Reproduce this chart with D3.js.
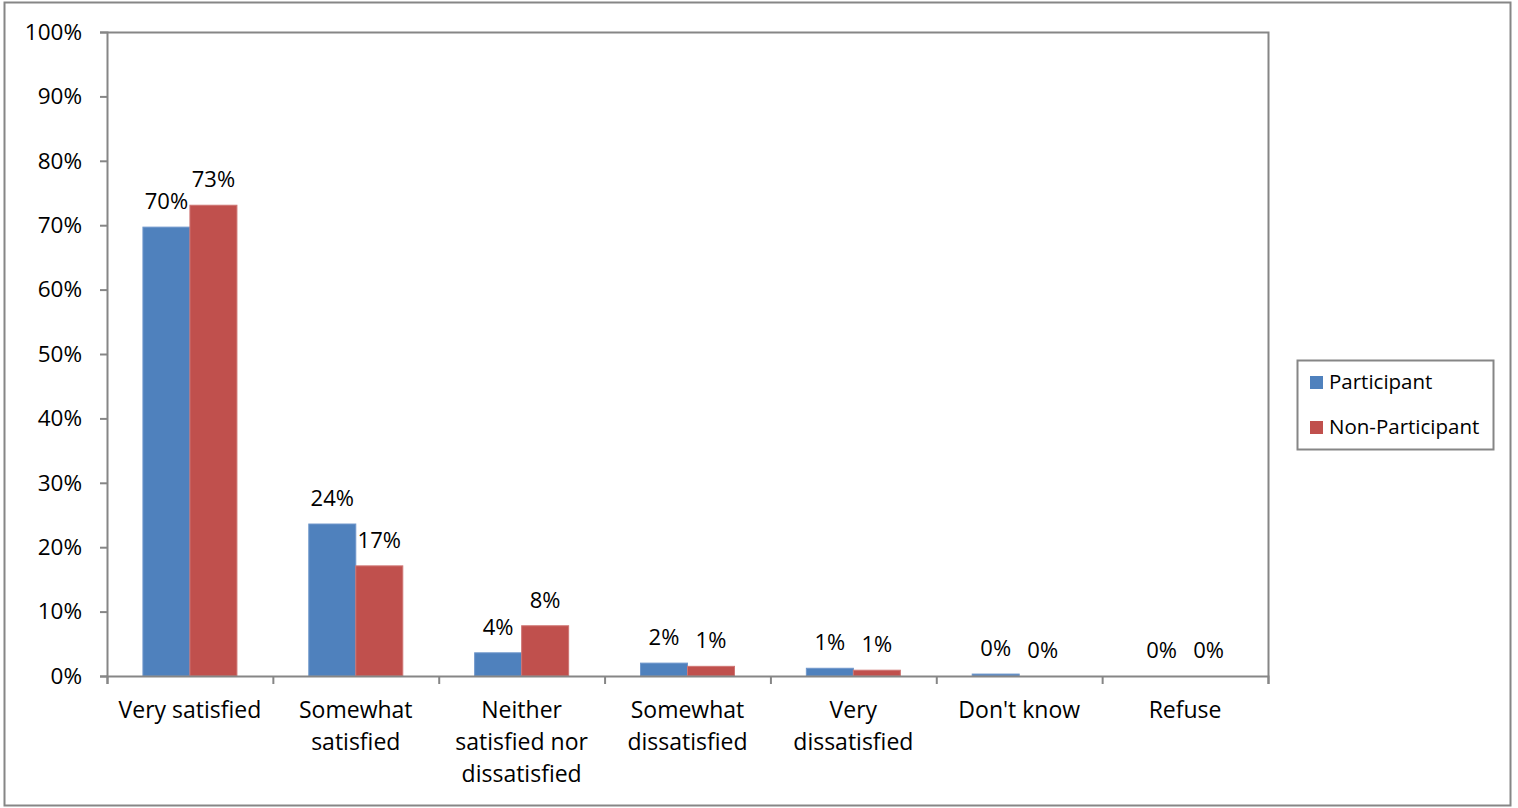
<!DOCTYPE html>
<html>
<head>
<meta charset="utf-8">
<script src="https://cdn.jsdelivr.net/npm/d3@7"></script>
<style>
  html, body { margin: 0; padding: 0; background: #fff; }
  svg { display: block; }
  text { font-family: "Open Sans", "Noto Sans", sans-serif; fill: #000; }
</style>
</head>
<body>
<svg id="chart" width="1518" height="808"></svg>
<script>
// Satisfaction responses by group
const categories = [
  ["Very satisfied"],
  ["Somewhat", "satisfied"],
  ["Neither", "satisfied nor", "dissatisfied"],
  ["Somewhat", "dissatisfied"],
  ["Very", "dissatisfied"],
  ["Don't know"],
  ["Refuse"]
];
const seriesNames = ["Participant", "Non-Participant"];
const participant    = [69.7, 23.6, 3.6, 2.0, 1.2, 0.3, 0.0];
const nonParticipant = [73.1, 17.1, 7.8, 1.5, 0.9, 0.0, 0.0];
const valueLabels = [
  ["70%", "24%", "4%", "2%", "1%", "0%", "0%"],
  ["73%", "17%", "8%", "1%", "1%", "0%", "0%"]
];
const yTicks = [0, 10, 20, 30, 40, 50, 60, 70, 80, 90, 100];
const colors = ["#4F81BD", "#C0504D"];
const strokes = ["#6f97cb", "#cf7573"];

const svg = d3.select("#chart");
const axisColor = "#868686";

// outer frame
svg.append("rect")
  .attr("x", 4.5).attr("y", 2.5).attr("width", 1506).attr("height", 803)
  .attr("fill", "#fff").attr("stroke", axisColor).attr("stroke-width", 2);

const plot = { left: 107, right: 1268, top: 32, bottom: 676 };

const x0 = d3.scaleBand()
  .domain(d3.range(categories.length))
  .range([plot.left, plot.right])
  .paddingInner(0).paddingOuter(0);
const barW = 47;
const y = d3.scaleLinear().domain([0, 100]).range([plot.bottom, plot.top]);

// plot area frame (top and right edges)
svg.append("path")
  .attr("d", `M${plot.left},${plot.top + 0.5}H${plot.right + 0.5}V${plot.bottom}`)
  .attr("fill", "none").attr("stroke", axisColor).attr("stroke-width", 2);

// bars
const data = [participant, nonParticipant];
data.forEach((vals, s) => {
  svg.append("g").selectAll("rect")
    .data(vals)
    .join("rect")
    .attr("x", (d, i) => x0(i) + x0.bandwidth() / 2 - barW + s * barW)
    .attr("y", d => y(d))
    .attr("width", barW)
    .attr("height", d => y(0) - y(d))
    .attr("fill", colors[s])
    .attr("stroke", d => d > 0 ? strokes[s] : "none")
    .attr("stroke-width", 1);

  svg.append("g").selectAll("text")
    .data(vals)
    .join("text")
    .attr("x", (d, i) => x0(i) + x0.bandwidth() / 2 - barW / 2 + s * barW)
    .attr("y", d => y(d) - 18)
    .attr("text-anchor", "middle")
    .attr("font-size", 22)
    .text((d, i) => valueLabels[s][i]);
});

// y axis
const yAxis = svg.append("g")
  .attr("transform", `translate(${plot.left},0)`)
  .call(d3.axisLeft(y).tickValues(yTicks).tickSize(7).tickPadding(18).tickFormat(d => d + "%"));
yAxis.select(".domain").attr("stroke", axisColor).attr("stroke-width", 2);
yAxis.selectAll(".tick line").attr("stroke", axisColor).attr("stroke-width", 2);
yAxis.selectAll(".tick text")
  .attr("font-size", 22.5).attr("font-family", "\"Open Sans\", sans-serif").attr("fill", "#000");

// x axis line and ticks at category boundaries
const xAxis = svg.append("g")
  .attr("transform", `translate(0,${plot.bottom})`)
  .call(d3.axisBottom(d3.scaleLinear().domain([0, categories.length]).range([plot.left, plot.right]))
    .tickValues(d3.range(categories.length + 1)).tickSize(8).tickFormat(""));
xAxis.select(".domain").attr("stroke", axisColor).attr("stroke-width", 2);
xAxis.selectAll(".tick line").attr("stroke", axisColor).attr("stroke-width", 2);

// category labels
const catG = svg.append("g");
categories.forEach((lines, i) => {
  const t = catG.append("text")
    .attr("x", x0(i) + x0.bandwidth() / 2)
    .attr("y", 718)
    .attr("text-anchor", "middle")
    .attr("font-size", 23);
  lines.forEach((ln, k) => {
    t.append("tspan")
      .attr("x", x0(i) + x0.bandwidth() / 2)
      .attr("dy", k === 0 ? 0 : 32)
      .text(ln);
  });
});

// legend
const lg = svg.append("g");
lg.append("rect")
  .attr("x", 1297.5).attr("y", 360.5).attr("width", 196).attr("height", 89)
  .attr("fill", "#fff").attr("stroke", axisColor).attr("stroke-width", 2);
seriesNames.forEach((name, s) => {
  lg.append("rect")
    .attr("x", 1310).attr("y", 376 + s * 45).attr("width", 13).attr("height", 13)
    .attr("fill", colors[s]);
  lg.append("text")
    .attr("x", 1329).attr("y", 389 + s * 45)
    .attr("font-size", 20.5)
    .text(name);
});
</script>
</body>
</html>
